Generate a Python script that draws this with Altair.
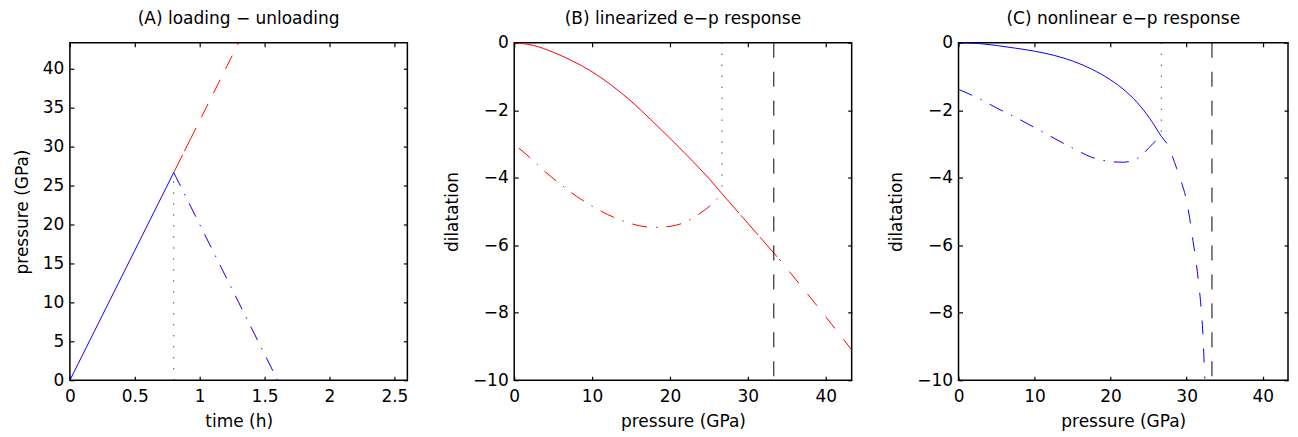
import altair as alt
import pandas as pd

FONT = "DejaVu Sans"
FS = 17
TICK = 4
RED = "#ff0000"
BLUE = "#0000ff"
BLACK = "#000000"

DASH_DOT = [15, 9, 1.5, 9]
DOTTED = [1, 10]
DASHED = [15, 14]

# ---------------- Panel A: loading - unloading ----------------
a_load_t = [0.0, 0.8]
a_load_p = [0.0, 26.67]
a_ext1_t = [0.8, 0.92]
a_ext1_p = [26.67, 30.67]
a_ext2_t = [0.92, 1.3]
a_ext2_p = [30.67, 43.33]
a_unload_t = [0.8, 1.6]
a_unload_p = [26.67, 0.0]
a_mark_t = [0.8, 0.8]
a_mark_p = [0.0, 26.67]
a_xticks = [0, 0.5, 1, 1.5, 2, 2.5]
a_yticks = [0, 5, 10, 15, 20, 25, 30, 35, 40]
a_xdomain = [0, 2.6]
a_ydomain = [0, 43.33]

# ---------------- Panel B: linearized e-p response ----------------
b_load_p = [0, 2.5, 5, 7.5, 10, 12.5, 15, 17.5, 20, 22.5, 25, 26.67]
b_load_e = [0, -0.08, -0.28, -0.54, -0.86, -1.26, -1.73, -2.27, -2.83, -3.41, -4.02, -4.47]
b_ext1_p = [26.67, 30, 33.33, 34.2]
b_ext1_e = [-4.47, -5.35, -6.23, -6.46]
b_ext2_p = [34.2, 36.67, 40, 43.33]
b_ext2_e = [-6.46, -7.16, -8.12, -9.1]
b_unload_p = [0.6, 2, 4, 6, 8, 10, 12, 14, 16, 18, 20, 22, 24, 25.5, 26.67]
b_unload_e = [-3.12, -3.40, -3.83, -4.20, -4.55, -4.84, -5.09, -5.28, -5.42, -5.47, -5.44, -5.31, -5.03, -4.76, -4.47]
b_mark_p = [26.67, 26.67]
b_mark_e = [0.0, -4.47]
b_limit_p = [33.33, 33.33]
b_limit_e = [0.0, -10.0]

# ---------------- Panel C: nonlinear e-p response ----------------
c_load_p = [0, 2.5, 5, 7.5, 10, 12.5, 15, 17.5, 20, 22, 24, 25.5, 26.67, 27.4]
c_load_e = [0, -0.02, -0.08, -0.16, -0.25, -0.37, -0.54, -0.78, -1.10, -1.44, -1.90, -2.36, -2.77, -2.98]
c_ext_p = [27.4, 28.1, 28.7, 29.4, 29.9, 30.4, 30.85, 31.25, 31.6, 31.9, 32.1, 32.25, 32.4]
c_ext_e = [-2.98, -3.35, -3.73, -4.19, -4.59, -5.20, -5.89, -6.50, -7.17, -7.85, -8.48, -9.2, -9.95]
c_unload_p = [0, 2.5, 5, 7.5, 10, 12.5, 15, 17.5, 20, 21.5, 23, 24.5, 25.6, 26.67]
c_unload_e = [-1.38, -1.63, -1.93, -2.21, -2.51, -2.82, -3.12, -3.39, -3.52, -3.54, -3.49, -3.24, -2.98, -2.77]
c_mark_p = [26.67, 26.67]
c_mark_e = [0.0, -2.77]
c_limit_p = [33.33, 33.33]
c_limit_e = [0.0, -10.0]

bd_xticks = [0, 10, 20, 30, 40]
bd_yticks = [-10, -8, -6, -4, -2, 0]
bd_xdomain = [0, 43.33]
bd_ydomain = [-10, 0]

H = 338


def axis_main_x(values, fmt, title):
    return alt.Axis(orient="bottom", values=values, format=fmt, title=title,
                    offset=-TICK, tickSize=TICK, tickWidth=1.2, tickColor=BLACK,
                    domain=False, grid=False, labelPadding=8,
                    labelFont=FONT, labelFontSize=FS, labelColor=BLACK,
                    labelFlush=False, labelOverlap=False, labelBound=False,
                    titleFont=FONT, titleFontSize=FS, titleFontWeight="normal",
                    titleColor=BLACK, titlePadding=9)


def axis_main_y(values, fmt, title):
    return alt.Axis(orient="left", values=values, format=fmt, title=title,
                    offset=-TICK, tickSize=TICK, tickWidth=1.2, tickColor=BLACK,
                    domain=False, grid=False, labelPadding=6,
                    labelFont=FONT, labelFontSize=FS, labelColor=BLACK,
                    labelFlush=False, labelOverlap=False, labelBound=False,
                    titleFont=FONT, titleFontSize=FS, titleFontWeight="normal",
                    titleColor=BLACK, titlePadding=11)


def axis_mirror(orient, values):
    return alt.Axis(orient=orient, values=values, title=None, labels=False,
                    offset=-TICK, tickSize=TICK, tickWidth=1.2, tickColor=BLACK,
                    domain=False, grid=False, minExtent=0)


def line_layer(xv, yv, color, dash, dash_offset, xscale, yscale, xaxis, yaxis):
    df = pd.DataFrame({"x": xv, "y": yv, "i": list(range(len(xv)))})
    kw = dict(color=color, strokeWidth=1, clip=True, interpolate="monotone")
    if dash is not None:
        kw["strokeDash"] = dash
    if dash_offset:
        kw["strokeDashOffset"] = dash_offset
    return alt.Chart(df).mark_line(**kw).encode(
        x=alt.X("x:Q", scale=xscale, axis=xaxis),
        y=alt.Y("y:Q", scale=yscale, axis=yaxis),
        order=alt.Order("i:Q"),
    )


def panel(title, title_offset, width, lines, xdomain, ydomain, xticks, yticks,
          xfmt, yfmt, xtitle, ytitle):
    xs = alt.Scale(domain=xdomain, nice=False, zero=False)
    ys = alt.Scale(domain=ydomain, nice=False, zero=False)
    layers = []
    for k, (xv, yv, color, dash, off) in enumerate(lines):
        if k == 0:
            xa, ya = axis_main_x(xticks, xfmt, xtitle), axis_main_y(yticks, yfmt, ytitle)
        elif k == 1:
            xa, ya = axis_mirror("top", xticks), axis_mirror("right", yticks)
        else:
            xa, ya = None, None
        layers.append(line_layer(xv, yv, color, dash, off, xs, ys, xa, ya))
    return alt.layer(*layers).resolve_axis(x="independent", y="independent").properties(
        width=width, height=H,
        title=alt.TitleParams(text=title, font=FONT, fontSize=FS, fontWeight="normal",
                              color=BLACK, offset=title_offset, anchor="middle",
                              frame="group"),
    )


panel_a = panel(
    "(A) loading \u2212 unloading", 14.5, 338,
    [
        (a_ext1_t, a_ext1_p, RED, [20, 4], 0),
        (a_ext2_t, a_ext2_p, RED, [15, 12], 0),
        (a_load_t, a_load_p, BLUE, None, 0),
        (a_unload_t, a_unload_p, BLUE, DASH_DOT, 0),
        (a_mark_t, a_mark_p, BLACK, DOTTED, 0),
    ],
    a_xdomain, a_ydomain, a_xticks, a_yticks, "~g", "d", "time (h)", "pressure (GPa)",
)

panel_b = panel(
    "(B) linearized e\u2212p response", 6, 338,
    [
        (b_load_p, b_load_e, RED, None, 0),
        (b_ext1_p, b_ext1_e, RED, [26, 3], 0),
        (b_ext2_p, b_ext2_e, RED, DASHED, 15),
        (b_unload_p, b_unload_e, RED, DASH_DOT, 0),
        (b_mark_p, b_mark_e, BLACK, DOTTED, 0),
        (b_limit_p, b_limit_e, BLACK, DASHED, 0),
    ],
    bd_xdomain, bd_ydomain, bd_xticks, bd_yticks, "d", "d", "pressure (GPa)", "dilatation",
)

panel_c = panel(
    "(C) nonlinear e\u2212p response", 6, 330,
    [
        (c_load_p, c_load_e, BLUE, None, 0),
        (c_ext_p, c_ext_e, BLUE, [14, 14], 14),
        (c_unload_p, c_unload_e, BLUE, DASH_DOT, 0),
        (c_mark_p, c_mark_e, BLACK, DOTTED, 0),
        (c_limit_p, c_limit_e, BLACK, DASHED, 0),
    ],
    bd_xdomain, bd_ydomain, bd_xticks, bd_yticks, "d", "d", "pressure (GPa)", "dilatation",
)

chart = (
    alt.hconcat(panel_a, panel_b, panel_c, spacing=107, bounds="flush")
    .properties(padding={"left": 4, "top": 0.5, "right": 0, "bottom": 0})
    .configure(font=FONT)
    .configure_view(stroke=BLACK, strokeWidth=1.5)
)

chart.save("out.html", embed_options={"renderer": "svg", "actions": False})
